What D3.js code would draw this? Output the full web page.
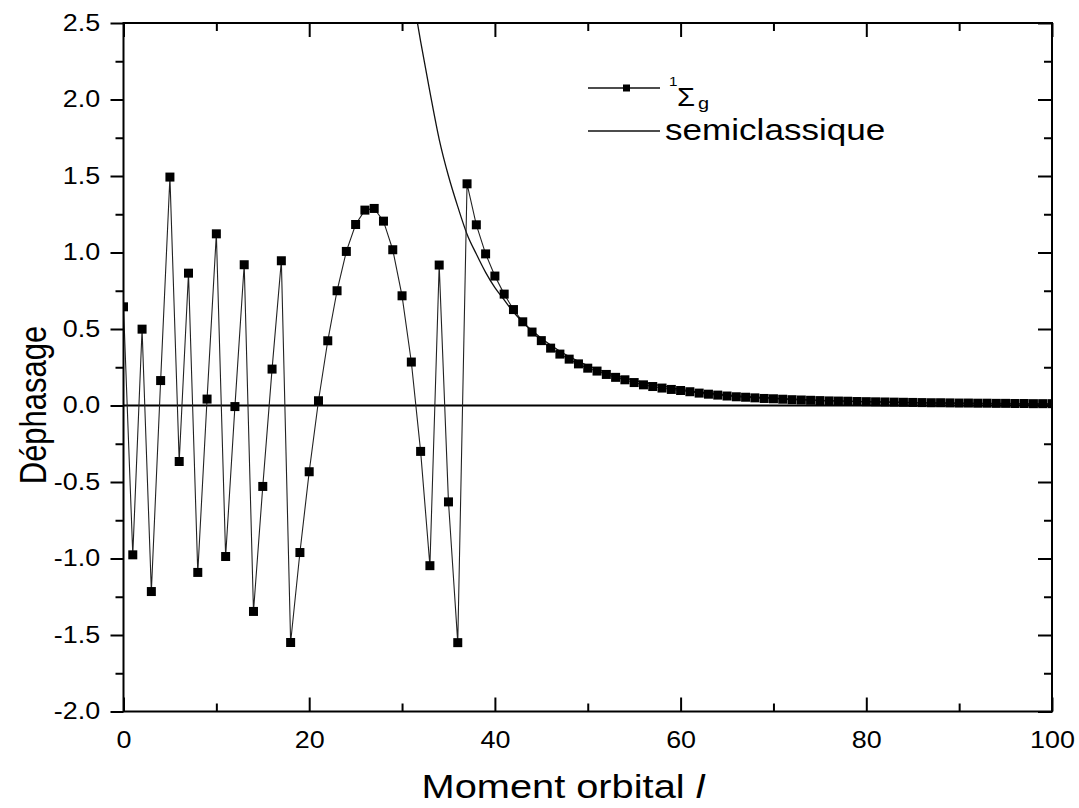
<!DOCTYPE html>
<html>
<head>
<meta charset="utf-8">
<script src="https://cdn.jsdelivr.net/npm/d3@7"></script>
<style>
body { margin: 0; background: #fff; }
text { font-family: "Liberation Sans", Arial, sans-serif; fill: #000; }
</style>
</head>
<body>
<div id="chart"></div>
<script>
// orbital moment l (x) and phase shift of the 1Sigma_g state
let ell = [0,1,2,3,4,5,6,7,8,9,10,11,12,13,14,15,16,17,18,19,20,
    21,22,23,24,25,26,27,28,29,30,31,32,33,34,35,36,37,38,39,40,
    41,42,43,44,45,46,47,48,49,50,51,52,53,54,55,56,57,58,59,60,
    61,62,63,64,65,66,67,68,69,70,71,72,73,74,75,76,77,78,79,80,
    81,82,83,84,85,86,87,88,89,90,91,92,93,94,95,96,97,98,99,100];
let dephasage = [0.645,-0.976,0.499,-1.216,0.163,1.493,-0.366,0.865,-1.091,0.042,1.122,
    -0.987,-0.007,0.920,-1.346,-0.529,0.238,0.946,-1.549,-0.961,-0.433,
    0.031,0.423,0.750,1.007,1.183,1.277,1.288,1.205,1.018,0.717,
    0.284,-0.300,-1.047,0.918,-0.630,-1.550,1.449,1.181,0.991,0.846,
    0.728,0.627,0.547,0.480,0.424,0.375,0.336,0.303,0.272,0.244,
    0.225,0.203,0.184,0.168,0.150,0.135,0.124,0.114,0.105,0.098,
    0.090,0.081,0.074,0.068,0.062,0.057,0.054,0.050,0.046,0.044,
    0.041,0.038,0.036,0.034,0.032,0.030,0.029,0.028,0.026,0.025,
    0.024,0.023,0.022,0.021,0.020,0.019,0.018,0.018,0.017,0.016,
    0.016,0.015,0.015,0.014,0.014,0.013,0.013,0.012,0.012,0.012];

// semiclassical curve
let semiL = [31.66,32,33,34,35,36,37,38,39,40,41,42,43,44,45,46,47,48,50,52,55,58,60,65,70,75,80,85,90,95,100];
let semiVal = [2.50,2.38,2.05,1.74,1.50,1.30,1.12,0.99,0.87,0.77,0.69,0.61,0.545,0.49,0.44,0.395,0.355,0.32,
    0.26,0.215,0.165,0.128,0.105,0.07,0.048,0.034,0.025,0.018,0.014,0.011,0.008];

// tick labels
let xMajorTicks = [0,20,40,60,80,100];
let xMinorTicks = [10,30,50,70,90];
let yMajorTicks = [-2.0,-1.5,-1.0,-0.5,0.0,0.5,1.0,1.5,2.0,2.5];
let yMinorTicks = [-1.75,-1.25,-0.75,-0.25,0.25,0.75,1.25,1.75,2.25];

// the reference text is slightly wider than tall
let sx = 1.17;

// set the dimensions and margins of the graph
let margin = {top: 23, right: 27, bottom: 96.5, left: 123.5},
    width = 1079 - margin.left - margin.right,
    height = 808 - margin.top - margin.bottom;

let x = d3.scaleLinear().domain([0, 100]).range([0, width]);
let y = d3.scaleLinear().domain([-2, 2.5]).range([height, 0]);

let root = d3.select("#chart").append("svg")
    .attr("width", 1079)
    .attr("height", 808);
let svg = root.append("g")
    .attr("transform", "translate(" + margin.left + "," + margin.top + ")");

root.append("defs").append("clipPath")
    .attr("id", "plot")
    .append("rect")
    .attr("width", width)
    .attr("height", height);

// axes: ticks in on bottom/top/right, out on the left
function styleAxis(g) {
    g.select(".domain").remove();
    g.selectAll(".tick line").attr("stroke", "#000").attr("stroke-width", 2);
}

svg.append("g")
    .attr("transform", "translate(0," + height + ")")
    .call(d3.axisBottom(x).tickValues(xMajorTicks).tickSize(-14).tickPadding(20))
    .call(styleAxis)
    .call(g => g.selectAll("text")
        .attr("font-size", 23)
        .attr("transform", "scale(" + sx + ",1)"));
svg.append("g")
    .attr("transform", "translate(0," + height + ")")
    .call(d3.axisBottom(x).tickValues(xMinorTicks).tickSize(-8).tickFormat(""))
    .call(styleAxis);
svg.append("g")
    .call(d3.axisTop(x).tickValues(xMajorTicks).tickSize(-14).tickFormat(""))
    .call(styleAxis);
svg.append("g")
    .call(d3.axisTop(x).tickValues(xMinorTicks).tickSize(-8).tickFormat(""))
    .call(styleAxis);

svg.append("g")
    .call(d3.axisLeft(y).tickValues(yMajorTicks).tickSize(13).tickPadding(7)
        .tickFormat(d => d.toFixed(1)))
    .call(styleAxis)
    .call(g => g.selectAll("text")
        .attr("font-size", 23)
        .attr("transform", "scale(" + sx + ",1)"));
svg.append("g")
    .call(d3.axisLeft(y).tickValues(yMinorTicks).tickSize(8).tickFormat(""))
    .call(styleAxis);
svg.append("g")
    .attr("transform", "translate(" + width + ",0)")
    .call(d3.axisRight(y).tickValues(yMajorTicks).tickSize(-14).tickFormat(""))
    .call(styleAxis);
svg.append("g")
    .attr("transform", "translate(" + width + ",0)")
    .call(d3.axisRight(y).tickValues(yMinorTicks).tickSize(-8).tickFormat(""))
    .call(styleAxis);

// zero line
svg.append("line")
    .attr("x1", x(0)).attr("x2", x(100))
    .attr("y1", y(0)).attr("y2", y(0))
    .attr("stroke", "#000")
    .attr("stroke-width", 2);

let plot = svg.append("g").attr("clip-path", "url(#plot)");

// semiclassical curve
let semiLine = d3.line()
    .x((d, i) => x(semiL[i]))
    .y(d => y(d))
    .curve(d3.curveMonotoneX);
plot.append("path")
    .datum(semiVal)
    .attr("fill", "none")
    .attr("stroke", "#111")
    .attr("stroke-width", 1.3)
    .attr("d", semiLine);

// phase shift line + square markers
let phaseLine = d3.line()
    .x((d, i) => x(ell[i]))
    .y(d => y(d));
plot.append("path")
    .datum(dephasage)
    .attr("fill", "none")
    .attr("stroke", "#222")
    .attr("stroke-width", 1.1)
    .attr("d", phaseLine);

let ms = 9;
plot.selectAll(".pt")
    .data(dephasage)
    .enter().append("rect")
    .attr("class", "pt")
    .attr("x", (d, i) => x(ell[i]) - ms / 2)
    .attr("y", d => y(d) - ms / 2)
    .attr("width", ms)
    .attr("height", ms)
    .attr("fill", "#000");

// frame
svg.append("rect")
    .attr("width", width)
    .attr("height", height)
    .attr("fill", "none")
    .attr("stroke", "#000")
    .attr("stroke-width", 2);

// axis titles
root.append("text")
    .attr("transform", "translate(563,798) scale(" + sx + ",1)")
    .attr("text-anchor", "middle")
    .attr("font-size", 34)
    .text("Moment orbital ")
    .append("tspan")
    .attr("font-style", "italic")
    .text("l");
root.append("text")
    .attr("transform", "translate(46,405) scale(" + sx + ",1) rotate(-90)")
    .attr("text-anchor", "middle")
    .attr("font-size", 31)
    .text("Déphasage");

// legend
let legend = root.append("g");
legend.append("line")
    .attr("x1", 588).attr("x2", 660).attr("y1", 88).attr("y2", 88)
    .attr("stroke", "#111").attr("stroke-width", 1.3);
legend.append("rect")
    .attr("x", 623).attr("y", 84.5).attr("width", 7).attr("height", 7)
    .attr("fill", "#000");
legend.append("text")
    .attr("transform", "translate(669,86) scale(" + sx + ",1)")
    .attr("font-family", "Liberation Serif, Times New Roman, serif")
    .attr("font-size", 13)
    .text("1");
legend.append("text")
    .attr("transform", "translate(677,106) scale(" + sx + ",1)")
    .attr("font-family", "Liberation Serif, Times New Roman, serif")
    .attr("font-size", 25)
    .text("Σ");
legend.append("text")
    .attr("transform", "translate(698,109) scale(" + sx + ",1)")
    .attr("font-size", 17)
    .text("g");
legend.append("line")
    .attr("x1", 588).attr("x2", 660).attr("y1", 131).attr("y2", 131)
    .attr("stroke", "#111").attr("stroke-width", 1.3);
legend.append("text")
    .attr("transform", "translate(665,140) scale(" + sx + ",1)")
    .attr("font-size", 30)
    .text("semiclassique");
</script>
</body>
</html>
